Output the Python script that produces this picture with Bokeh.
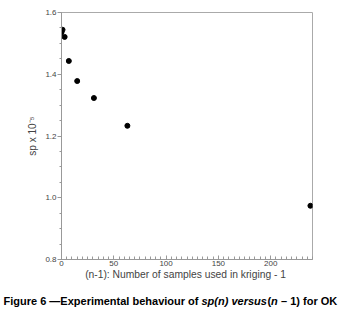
from bokeh.plotting import figure
from bokeh.models import Range1d, SingleIntervalTicker, PrintfTickFormatter, Label
from bokeh.embed import file_html
from bokeh.resources import INLINE

# data
n_minus_1 = [0, 1, 3, 7, 15, 31, 63, 238]
sp = [1.536, 1.544, 1.521, 1.443, 1.378, 1.323, 1.233, 0.974]

x_label = "(n-1):  Number of samples used in kriging - 1"
y_label = "sp x 10\u207b\u2075"

FONT = "Liberation Sans"
CAP_FONT = "Liberation Sans"

p = figure(width=340, height=285, output_backend="svg", toolbar_location=None,
           x_range=Range1d(0, 240), y_range=Range1d(0.8, 1.6),
           min_border_left=61, min_border_right=28, min_border_top=12,
           min_border_bottom=26)
p.frame_width = 251
p.frame_height = 247

p.scatter(n_minus_1, sp, size=5, color="black")

p.xgrid.visible = False
p.ygrid.visible = False
p.outline_line_color = "#aaaaaa"
p.background_fill_color = "white"
p.border_fill_color = "white"

xa = p.xaxis[0]
xa.ticker = SingleIntervalTicker(interval=50, num_minor_ticks=10)
xa.axis_label = x_label
xa.axis_label_text_font = FONT
xa.axis_label_text_font_size = "10.3px"
xa.axis_label_text_font_style = "normal"
xa.axis_label_text_color = "#444444"
xa.axis_label_standoff = 0
xa.major_label_text_font = FONT
xa.major_label_text_font_size = "8px"
xa.major_label_text_color = "#444444"
xa.major_label_standoff = 1
xa.major_tick_in = 4
xa.major_tick_out = 0
xa.minor_tick_in = 3
xa.minor_tick_out = 0
xa.axis_line_color = "#999999"
xa.major_tick_line_color = "#999999"
xa.minor_tick_line_color = "#999999"

ya = p.yaxis[0]
ya.ticker = SingleIntervalTicker(interval=0.2, num_minor_ticks=4)
ya.formatter = PrintfTickFormatter(format="%.1f")
ya.axis_label = y_label
ya.axis_label_text_font = FONT
ya.axis_label_text_font_size = "10px"
ya.axis_label_text_font_style = "normal"
ya.axis_label_text_color = "#444444"
ya.axis_label_standoff = 4
ya.major_label_text_font = FONT
ya.major_label_text_font_size = "8px"
ya.major_label_text_color = "#444444"
ya.major_label_standoff = 1
ya.major_tick_in = 0
ya.major_tick_out = 4
ya.minor_tick_in = 0
ya.minor_tick_out = 2
ya.axis_line_color = "#999999"
ya.major_tick_line_color = "#999999"
ya.minor_tick_line_color = "#999999"

# caption as a separate root figure whose frame spans its full width
cap = figure(width=340, height=33, output_backend="svg", toolbar_location=None,
             x_range=Range1d(0, 340), y_range=Range1d(33, 0),
             x_axis_type=None, y_axis_type=None,
             min_border=0, min_border_left=0, min_border_right=0,
             min_border_top=0, min_border_bottom=0)
cap.grid.visible = False
cap.outline_line_color = None
cap.border_fill_color = "white"
cap.background_fill_color = "white"

parts = [
    ("Figure 6 \u2014Experimental behaviour of", 3, "bold"),
    ("sp(n) versus", 201, "bold italic"),
    ("(", 267, "bold"),
    ("n", 270.5, "bold italic"),
    ("\u2013 1) for OK", 280.5, "bold"),
]
for txt, xs, style in parts:
    cap.add_layout(Label(x=xs, y=15, text=txt, text_font=CAP_FONT,
                         text_font_size="11px", text_font_style=style,
                         text_color="black", text_baseline="alphabetic"))

open("out.html", "w").write(file_html([p, cap], INLINE))
